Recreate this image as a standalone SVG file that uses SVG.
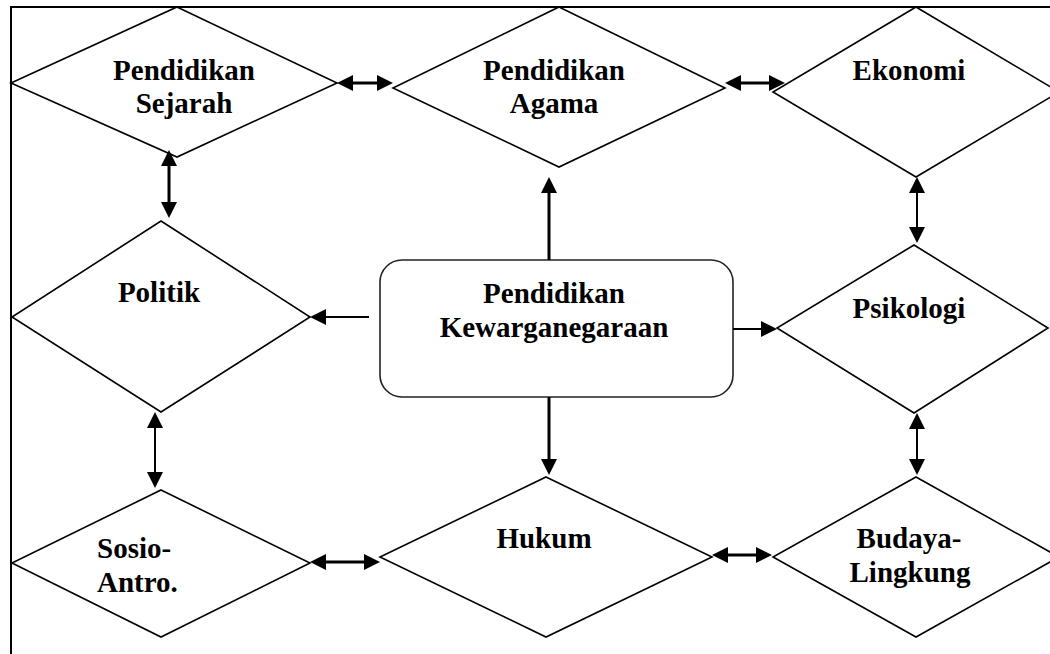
<svg xmlns="http://www.w3.org/2000/svg" width="1050" height="654" viewBox="0 0 1050 654">
<style>
.shape{fill:#fff;stroke:#000;stroke-width:1.6}
.box{fill:#fff;stroke:#222;stroke-width:1.6}
.lbl{font-family:"Liberation Serif","Times New Roman",serif;font-weight:bold;font-size:29px;fill:#000}
.c{text-anchor:middle}
.thick{stroke:#000;stroke-width:3;fill:none}
.thin{stroke:#000;stroke-width:2;fill:none}
.frame{stroke:#000;stroke-width:2;fill:none}
</style>
<defs>
<marker id="ah" markerUnits="userSpaceOnUse" markerWidth="16" markerHeight="16" viewBox="0 0 16 16" refX="12" refY="8" orient="auto-start-reverse">
<path d="M0,0 L16,8 L0,16 z" fill="#000"/>
</marker>
</defs>
<rect width="1050" height="654" fill="#fff"/>
<g id="frame">
<path class="frame" d="M11,654 L11,7 L1050,7"/>
</g>
<g id="sejarah">
<polygon class="shape" points="177,7 337,83 177,157 11,83"/>
<text class="lbl c" x="184" y="80">Pendidikan</text>
<text class="lbl c" x="184" y="113">Sejarah</text>
</g>
<g id="agama">
<polygon class="shape" points="559,7 725,88 559,167 393,88"/>
<text class="lbl c" x="554" y="80">Pendidikan</text>
<text class="lbl c" x="554" y="113">Agama</text>
</g>
<g id="ekonomi">
<polygon class="shape" points="916,7 1059,92 916,177 773,92"/>
<text class="lbl c" x="909" y="80">Ekonomi</text>
</g>
<g id="politik">
<polygon class="shape" points="161,221 310,317 161,412 12,317"/>
<text class="lbl c" x="159" y="302">Politik</text>
</g>
<g id="pkn">
<rect class="box" x="380" y="260" width="353" height="137" rx="22" ry="22"/>
<text class="lbl c" x="554" y="303">Pendidikan</text>
<text class="lbl c" x="554" y="337">Kewarganegaraan</text>
</g>
<g id="psikologi">
<polygon class="shape" points="914,245 1048,328 914,413 777,328"/>
<text class="lbl c" x="909" y="318">Psikologi</text>
</g>
<g id="sosio">
<polygon class="shape" points="161,490 310,563 161,637 12,563"/>
<text class="lbl" x="97" y="558">Sosio-</text>
<text class="lbl" x="97" y="592">Antro.</text>
</g>
<g id="hukum">
<polygon class="shape" points="546,477 712,557 546,637 380,557"/>
<text class="lbl c" x="544" y="548">Hukum</text>
</g>
<g id="budaya">
<polygon class="shape" points="916,477 1059,557 916,637 773,557"/>
<text class="lbl c" x="909" y="548">Budaya-</text>
<text class="lbl c" x="910" y="582">Lingkung</text>
</g>
<g id="connectors">
<line class="thick" x1="341" y1="83" x2="389" y2="83" marker-start="url(#ah)" marker-end="url(#ah)"/>
<line class="thick" x1="729" y1="83" x2="781" y2="83" marker-start="url(#ah)" marker-end="url(#ah)"/>
<line class="thick" x1="169" y1="154" x2="169" y2="214" marker-start="url(#ah)" marker-end="url(#ah)"/>
<line class="thin" x1="917" y1="181" x2="917" y2="239" marker-start="url(#ah)" marker-end="url(#ah)"/>
<line class="thick" x1="549" y1="260" x2="549" y2="181" marker-end="url(#ah)"/>
<line class="thin" x1="369" y1="317" x2="314" y2="317" marker-end="url(#ah)"/>
<line class="thin" x1="733" y1="329" x2="773" y2="329" marker-end="url(#ah)"/>
<line class="thick" x1="549" y1="397" x2="549" y2="471" marker-end="url(#ah)"/>
<line class="thin" x1="155" y1="416" x2="155" y2="484" marker-start="url(#ah)" marker-end="url(#ah)"/>
<line class="thin" x1="917" y1="417" x2="917" y2="471" marker-start="url(#ah)" marker-end="url(#ah)"/>
<line class="thick" x1="314" y1="562" x2="376" y2="562" marker-start="url(#ah)" marker-end="url(#ah)"/>
<line class="thick" x1="716" y1="555" x2="768" y2="555" marker-start="url(#ah)" marker-end="url(#ah)"/>
</g>
</svg>
